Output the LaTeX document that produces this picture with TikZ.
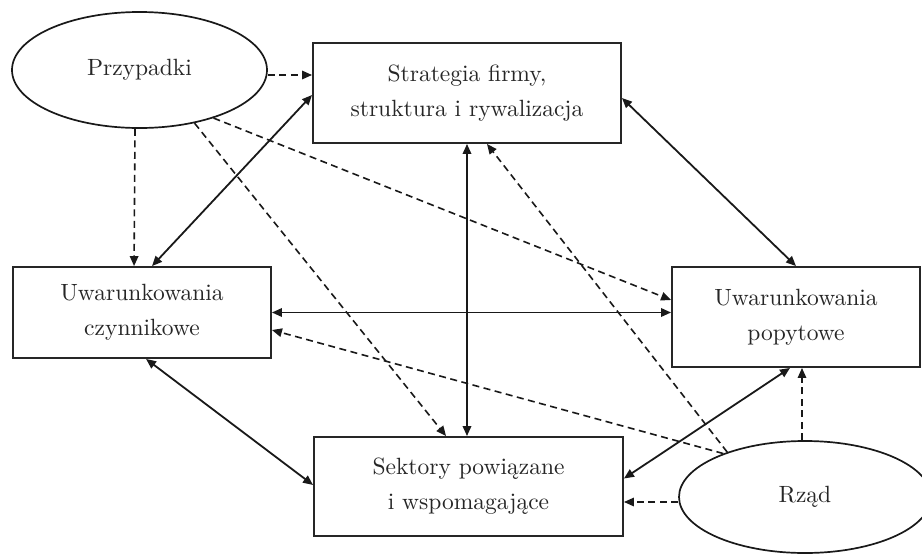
\documentclass[tikz,border=0pt]{standalone}
\usepackage{fontspec}
\setmainfont{lmroman10-regular}[Extension=.otf]
\usetikzlibrary{arrows.meta,shapes.geometric,calc}
\begin{document}
\begin{tikzpicture}[x=1pt,y=-1pt,
  every node/.style={font=\fontsize{23.5}{35}\selectfont, text=black!85, align=center},
  boxnode/.style={draw=black!85, line width=1.9pt, rectangle, inner sep=0pt},
  ellnode/.style={draw=black!90, line width=1.7pt, ellipse, inner sep=0pt},
  tip/.style={-{Triangle[length=10pt,width=8.5pt]}},
  bitip/.style={{Triangle[length=10pt,width=8.5pt]}-{Triangle[length=10pt,width=8.5pt]}},
  solidline/.style={line width=1.8pt, draw=black!90},
  dashline/.style={line width=1.6pt, draw=black!90, dash pattern=on 7pt off 4.5pt}
]
\useasboundingbox (0,0) rectangle (922,555);
\fill[white] (0,0) rectangle (922,555);

\node[ellnode, minimum width=255pt, minimum height=116pt] (przyp) at (139.5,70) {Przypadki};
\node[boxnode, minimum width=308pt, minimum height=100pt] (strat) at (467,93) {Strategia firmy,\\struktura i rywalizacja};
\node[boxnode, minimum width=258pt, minimum height=91pt] (czyn) at (142,312.5) {Uwarunkowania\\czynnikowe};
\node[boxnode, minimum width=248pt, minimum height=100pt] (popyt) at (796,317) {Uwarunkowania\\popytowe};
\node[boxnode, minimum width=309pt, minimum height=99pt] (sekt) at (468.5,486.5) {Sektory powiązane\\i wspomagające};
\node[ellnode, minimum width=252pt, minimum height=112pt] (rzad) at (805,497) {Rząd};

% solid double arrows
\draw[solidline, bitip] ($(czyn.north west)+(140,0)$) -- ($(strat.west)+(0,2)$);
\draw[solidline, bitip] (czyn.east) -- (czyn.east -| popyt.west);
\draw[solidline, bitip] (strat.south) -- (strat.south |- sekt.north);
\draw[solidline, bitip] ($(czyn.south west)+(134,0)$) -- ($(sekt.west)+(0,-1.5)$);
\draw[solidline, bitip] ($(strat.east)+(0,5)$) -- (popyt.north);
\draw[solidline, bitip] ($(popyt.south)+(-6,0)$) -- ($(sekt.east)+(0,-8)$);

% dashed arrows from Przypadki
\draw[dashline, tip] ($(przyp.east)+(0,5)$) -- ($(strat.west)+(0,-18)$);
\draw[dashline, tip] ($(przyp.south)+(-4.5,0)$) -- ($(czyn.north west)+(122,0)$);
\draw[dashline, tip] (przyp.-44) -- ($(sekt.north west)+(133,0)$);
\draw[dashline, tip] (przyp.-33) -- ($(popyt.west)+(0,-17)$);

% dashed arrows from Rząd
\draw[dashline, tip] (rzad.150) -- ($(strat.south)+(20,0)$);
\draw[dashline, tip] (rzad.152) -- ($(czyn.east)+(0,17.5)$);
\draw[dashline, tip] ($(rzad.north)+(-3,0)$) -- ($(popyt.south)+(6,0)$);
\draw[dashline, tip] ($(rzad.west)+(0,5)$) -- ($(sekt.east)+(0,15.5)$);
\end{tikzpicture}
\end{document}
